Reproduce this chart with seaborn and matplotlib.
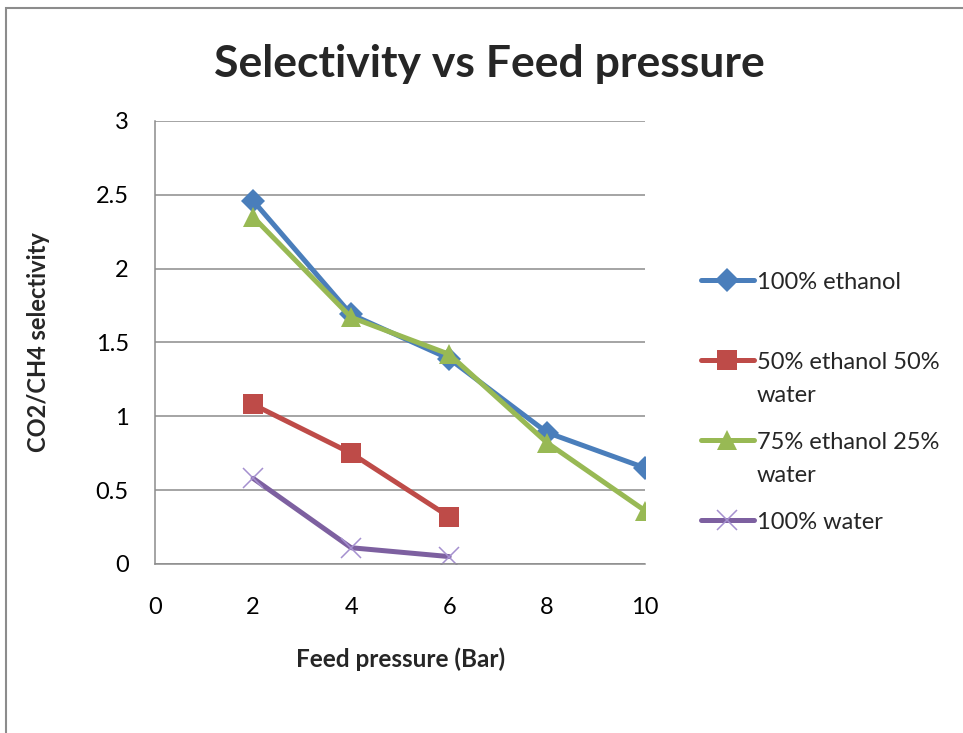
import pandas as pd
import matplotlib
matplotlib.use("Agg")
import matplotlib.pyplot as plt
import seaborn as sns

# dados
pressao = [2, 4, 6, 8, 10]
etanol_100 = [2.46, 1.69, 1.39, 0.89, 0.65]
etanol_50_agua_50 = [1.08, 0.75, 0.32]
etanol_75_agua_25 = [2.35, 1.67, 1.42, 0.82, 0.36]
agua_100 = [0.58, 0.11, 0.05]

series = ["100% ethanol", "50% ethanol 50%\nwater", "75% ethanol 25%\nwater", "100% water"]
valores = [etanol_100, etanol_50_agua_50, etanol_75_agua_25, agua_100]
cores = ["#4A7EBB", "#BE4B48", "#98B954", "#7D60A0"]
marcadores = ["D", "s", "^", "x"]
tamanhos = [12, 14, 14, 15]

linhas = []
for nome, vals in zip(series, valores):
    for x, y in zip(pressao, vals):
        linhas.append({"pressao": x, "selectividade": y, "serie": nome})
df = pd.DataFrame(linhas)

sns.set_theme(style="white")
plt.rcParams["font.family"] = ["Lato", "DejaVu Sans"]

fig = plt.figure(figsize=(9.63, 7.33), dpi=100)
ax = fig.add_axes([0.161, 0.2306, 0.509, 0.6044])

for nome, cor, m, tam in zip(series, cores, marcadores, tamanhos):
    sub = df[df["serie"] == nome]
    # legenda mostra só a primeira linha; a segunda vai como texto à parte
    sns.lineplot(
        data=sub, x="pressao", y="selectividade", ax=ax,
        color=cor, linewidth=3.6, marker=m, markersize=tam,
        markeredgewidth=0 if m != "x" else 1.1,
        markeredgecolor=cor if m != "x" else "#A590CF",
        label=nome.split("\n")[0], legend=False,
    )

ax.set_xlim(0, 10)
ax.set_ylim(0, 3)
ax.set_xticks([0, 2, 4, 6, 8, 10])
ax.set_yticks([0, 0.5, 1, 1.5, 2, 2.5, 3])
ax.set_yticklabels(["0", "0.5", "1", "1.5", "2", "2.5", "3"])
ax.yaxis.grid(True, color="#8C8C8C", linewidth=1.1)
ax.xaxis.grid(False)
for lado in ["top", "right"]:
    ax.spines[lado].set_visible(False)
for lado in ["left", "bottom"]:
    ax.spines[lado].set_color("#8C8C8C")
    ax.spines[lado].set_linewidth(1.1)
ax.tick_params(axis="both", labelsize=17, labelcolor="black", length=0)
ax.tick_params(axis="y", pad=19)
ax.tick_params(axis="x", pad=24)

ax.set_xlabel("Feed pressure (Bar)", fontsize=17.5, weight="bold", labelpad=21)
ax.set_ylabel("CO2/CH4 selectivity", fontsize=17, weight="bold", labelpad=33)

fig.text(0.508, 0.913, "Selectivity vs Feed pressure", fontsize=32, weight="bold",
         ha="center", va="center")

leg = ax.legend(loc="upper left", bbox_to_anchor=(1.07, 0.708), frameon=False,
                fontsize=17, handlelength=2.25, handletextpad=0.12, labelspacing=2.5)

# segunda linha dos rótulos quebrados
fig.canvas.draw()
inv = fig.transFigure.inverted()
for texto, nome in zip(leg.get_texts(), series):
    partes = nome.split("\n")
    if len(partes) > 1:
        bb = texto.get_window_extent()
        x0, y0 = inv.transform((bb.x0, bb.y0 - 33))
        fig.text(x0, y0, partes[1], fontsize=17, ha="left", va="bottom")

# moldura do gráfico (estilo Excel)
moldura = plt.Rectangle((0.006, -0.1), 1.2, 1.089, transform=fig.transFigure,
                        fill=False, edgecolor="#8C8C8C", linewidth=1.5)
fig.patches.append(moldura)

plt.savefig("out.png", dpi=100)
plt.close()
